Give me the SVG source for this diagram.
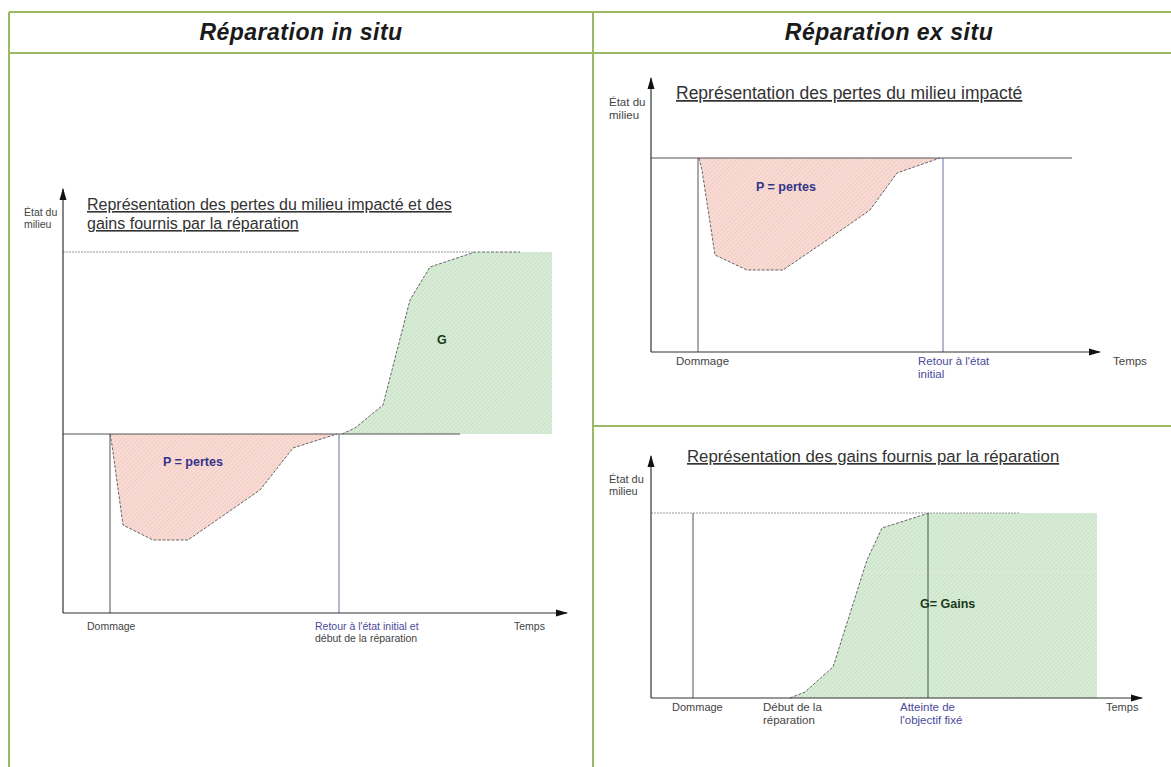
<svg xmlns="http://www.w3.org/2000/svg" width="1171" height="767" viewBox="0 0 1171 767">
<defs>
<pattern id="hr" width="3" height="3" patternUnits="userSpaceOnUse" patternTransform="rotate(45)">
<rect width="3" height="3" fill="#f9dcd5"/><line x1="0" y1="0" x2="0" y2="3" stroke="#ebbdb3" stroke-width="1"/>
</pattern>
<pattern id="hg" width="3" height="3" patternUnits="userSpaceOnUse" patternTransform="rotate(45)">
<rect width="3" height="3" fill="#d9ecd7"/><line x1="0" y1="0" x2="0" y2="3" stroke="#b8d8b5" stroke-width="1"/>
</pattern>
<marker id="ar" viewBox="0 0 12 10" refX="11" refY="5" markerWidth="12" markerHeight="10" markerUnits="userSpaceOnUse" orient="auto">
<path d="M0,1.5 L12,5 L0,8.5 Z" fill="#111"/>
</marker>
<style>
.frame{fill:none;stroke:#9bb866;stroke-width:2}
.hdr{font-family:"Liberation Sans",Arial,sans-serif;font-size:23px;font-style:italic;font-weight:bold;letter-spacing:0.5px;fill:#1a1a1a;text-anchor:middle}
.ttl{font-family:"Liberation Sans",Arial,sans-serif;font-size:16px;fill:#333;text-decoration:underline}
.sm{font-family:"Liberation Sans",Arial,sans-serif;font-size:10.5px;fill:#444}
.smb{font-family:"Liberation Sans",Arial,sans-serif;font-size:10.5px;fill:#4a4a9a}
.lbl{font-family:"Liberation Sans",Arial,sans-serif;font-size:12.5px;font-weight:bold}
.axis{stroke:#333;stroke-width:1.2;fill:none}
.base{stroke:#555;stroke-width:1;fill:none}
.vl{stroke:#555;stroke-width:1}
.vb{stroke:#6a6aa8;stroke-width:1}
.dash{stroke:#999;stroke-width:1;stroke-dasharray:2,1;fill:none}
.curve{stroke:#666;stroke-width:1;stroke-dasharray:3,1.5;fill:none}
</style>
</defs>
<rect width="1171" height="767" fill="#fff"/>
<g id="table">
<line class="frame" x1="9" y1="12" x2="1171" y2="12"/>
<line class="frame" x1="9" y1="53" x2="1171" y2="53"/>
<line class="frame" x1="9" y1="12" x2="9" y2="767"/>
<line class="frame" x1="593" y1="12" x2="593" y2="767"/>
<line class="frame" x1="593" y1="426" x2="1171" y2="426"/>
<text class="hdr" x="301" y="40">Réparation in situ</text>
<text class="hdr" x="889" y="40">Réparation ex situ</text>
</g>
<g id="chart-insitu">
<polygon points="342,434 355,428 383,405 410,300 430,267 475,252 552,252 552,434" fill="url(#hg)"/>
<polygon points="110,434 112,445 123,525 153,540 188,540 260,490 293,448 337,434" fill="url(#hr)"/>
<polyline class="curve" points="110,434 112,445 123,525 153,540 188,540 260,490 293,448 337,434"/>
<polyline class="curve" points="342,434 355,428 383,405 410,300 430,267 475,252 520,252"/>
<line class="dash" x1="63" y1="252" x2="475" y2="252"/>
<line class="base" x1="63" y1="434" x2="460" y2="434"/>
<line class="vl" x1="110" y1="434" x2="110" y2="613"/>
<line class="vb" x1="339" y1="434" x2="339" y2="613"/>
<line class="axis" x1="63" y1="613" x2="63" y2="189" marker-end="url(#ar)"/>
<line class="axis" x1="63" y1="613" x2="567" y2="613" marker-end="url(#ar)"/>
<text class="ttl" x="87" y="210">Représentation des pertes du milieu impacté et des</text>
<text class="ttl" x="87" y="229">gains fournis par la réparation</text>
<text class="sm" x="24" y="216">État du</text>
<text class="sm" x="24" y="228">milieu</text>
<text class="lbl" x="163" y="466" fill="#33338a">P = pertes</text>
<text class="lbl" x="437" y="344" fill="#1a3a1a">G</text>
<text class="sm" x="87" y="630">Dommage</text>
<text class="smb" x="315" y="630">Retour à l'état initial et</text>
<text class="sm" x="315" y="642">début de la réparation</text>
<text class="sm" x="514" y="630">Temps</text>
</g>
<g id="chart-pertes">
<polygon points="699,158 702,170 715,255 747,270 783,270 827,240 870,210 897,173 940,158" fill="url(#hr)"/>
<polyline class="curve" points="699,158 702,170 715,255 747,270 783,270 827,240 870,210 897,173 940,158"/>
<line class="base" x1="651" y1="158" x2="1072" y2="158"/>
<line class="vl" x1="698" y1="158" x2="698" y2="352"/>
<line class="vb" x1="943" y1="158" x2="943" y2="352"/>
<line class="axis" x1="651" y1="352" x2="651" y2="78" marker-end="url(#ar)"/>
<line class="axis" x1="651" y1="352" x2="1100" y2="352" marker-end="url(#ar)"/>
<text class="ttl" x="676" y="99" style="font-size:17.5px">Représentation des pertes du milieu impacté</text>
<text class="sm" x="609" y="106" style="font-size:11.5px">État du</text>
<text class="sm" x="609" y="119" style="font-size:11.5px">milieu</text>
<text class="lbl" x="756" y="191" fill="#33338a">P = pertes</text>
<text class="sm" x="676" y="365" style="font-size:11.5px">Dommage</text>
<text class="smb" x="918" y="365" style="font-size:11.5px">Retour à l'état</text>
<text class="smb" x="918" y="378" style="font-size:11.5px">initial</text>
<text class="sm" x="1113" y="365" style="font-size:11.5px">Temps</text>
</g>
<g id="chart-gains">
<polygon points="790,698 805,692 833,667 867,560 882,528 929,513 1097,513 1097,698" fill="url(#hg)"/>
<polyline class="curve" points="790,698 805,692 833,667 867,560 882,528 929,513"/>
<line class="dash" x1="651" y1="513" x2="1020" y2="513"/>
<line x1="865" y1="572" x2="1097" y2="572" stroke="#e6f0e4" stroke-width="1" stroke-dasharray="2,2"/>
<line class="vl" x1="693" y1="513" x2="693" y2="698"/>
<line x1="928" y1="513" x2="928" y2="698" stroke="#3a5a5a" stroke-width="1"/>
<line class="axis" x1="651" y1="698" x2="651" y2="456" marker-end="url(#ar)"/>
<line class="axis" x1="651" y1="698" x2="1142" y2="698" marker-end="url(#ar)"/>
<text class="ttl" x="687" y="462" style="font-size:16.8px">Représentation des gains fournis par la réparation</text>
<text class="sm" x="609" y="483" style="font-size:11px">État du</text>
<text class="sm" x="609" y="495" style="font-size:11px">milieu</text>
<text class="lbl" x="920" y="608" fill="#1a3a1a">G= Gains</text>
<text class="sm" x="672" y="711" style="font-size:11px">Dommage</text>
<text class="sm" x="763" y="711" style="font-size:11.5px">Début de la</text>
<text class="sm" x="763" y="724" style="font-size:11.5px">réparation</text>
<text class="smb" x="900" y="711" style="font-size:11.5px">Atteinte de</text>
<text class="smb" x="900" y="724" style="font-size:11.5px">l'objectif fixé</text>
<text class="sm" x="1106" y="711" style="font-size:11px">Temps</text>
</g>
</svg>
